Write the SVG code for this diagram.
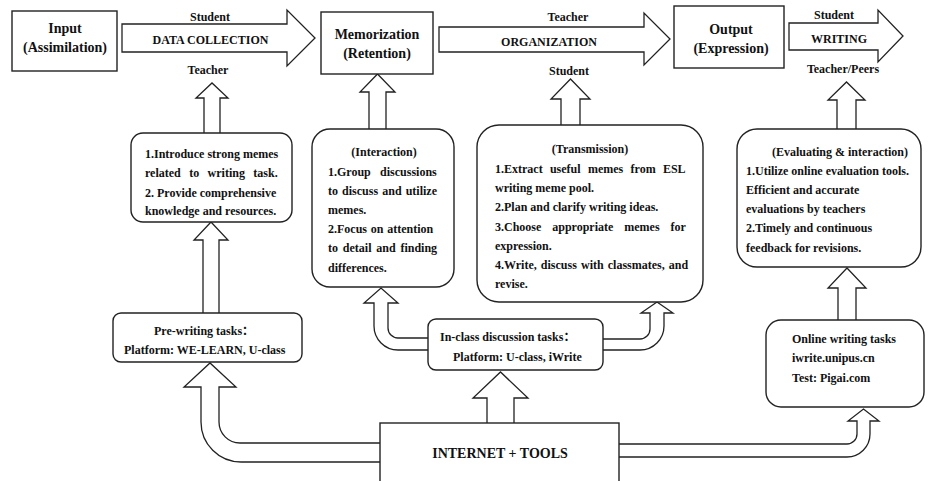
<svg xmlns="http://www.w3.org/2000/svg" width="928" height="481" viewBox="0 0 928 481">
<style>
  text { font-family: "Liberation Serif", "Times New Roman", "Noto Sans CJK SC", serif; font-weight: bold; fill: #111; }
  .t14 { font-size: 14px; }
  .t12 { font-size: 12px; }
  .c { text-anchor: middle; }
  .box { fill: #fff; stroke: #222; stroke-width: 1.4; }
  .arr { fill: #fff; stroke: #222; stroke-width: 1.3; stroke-linejoin: miter; }
</style>
<rect x="0" y="0" width="928" height="481" fill="#fff"/>

<g id="connectors">
  <!-- big horizontal arrows -->
  <path class="arr" d="M122,24 L287,24 L287,10 L315,38 L287,66 L287,52 L122,52 Z"/>
  <path class="arr" d="M439,27 L644,27 L644,13 L670,39 L644,65 L644,52 L439,52 Z"/>
  <path class="arr" d="M789,23 L878,23 L878,10 L903,36 L878,62 L878,50 L789,50 Z"/>
  <!-- straight up arrows -->
  <path class="arr" d="M204,133 L204,98 L196,98 L212,83 L228,98 L220,98 L220,133"/>
  <path class="arr" d="M203,313 L203,240 L194,240 L211,222 L228,240 L219,240 L219,313"/>
  <path class="arr" d="M369,129 L369,92 L360,92 L377.5,74 L395,92 L386,92 L386,129"/>
  <path class="arr" d="M561,125 L561,99 L551,99 L570.5,79 L590,99 L580,99 L580,125"/>
  <path class="arr" d="M837,129 L837,100 L828,100 L846.5,82 L865,100 L856,100 L856,129"/>
  <path class="arr" d="M838,320 L838,288 L828,288 L847,268 L866,288 L856,288 L856,320"/>
  <path class="arr" d="M487,423 L487,398 L473,398 L500.5,372 L528,398 L514,398 L514,423"/>
  <!-- curved arrows from in-class box -->
  <path class="arr" d="M428,338 L398,338 A10,10 0 0 1 388,328 L388,303 L398,303 L381,288 L364,303 L374,303 L374,326 A24,24 0 0 0 398,350 L428,350"/>
  <path class="arr" d="M603,339 L640,339 A10,10 0 0 0 650,329 L650,313 L641,313 L657,302 L673,313 L664,313 L664,326 A24,24 0 0 1 640,350 L603,350"/>
  <!-- curved arrows from INTERNET box -->
  <path class="arr" d="M380,443 L240,443 A21,21 0 0 1 219,422 L219,387 L236,387 L210,363 L184,387 L201,387 L201,422 A40,40 0 0 0 241,462 L380,462"/>
  <path class="arr" d="M619,444 L847,444 A10,10 0 0 0 857,434 L857,421 L848,421 L863.5,409 L879,421 L870,421 L870,434 A23,23 0 0 1 847,457 L619,457"/>
</g>

<g id="arrow-labels">
  <text class="t12 c" x="210" y="21">Student</text>
  <text class="t12 c" x="210.5" y="44">DATA COLLECTION</text>
  <text class="t12 c" x="208" y="74">Teacher</text>
  <text class="t12 c" x="568" y="21">Teacher</text>
  <text class="t12 c" x="549" y="46">ORGANIZATION</text>
  <text class="t12 c" x="569" y="75">Student</text>
  <text class="t12 c" x="834" y="19">Student</text>
  <text class="t12 c" x="839" y="43">WRITING</text>
  <text class="t12 c" x="843" y="73">Teacher/Peers</text>
</g>

<g id="input">
  <rect class="box" x="12" y="11" width="105" height="60"/>
  <text class="t14 c" x="65" y="33">Input</text>
  <text class="t14 c" x="65" y="52">(Assimilation)</text>
</g>

<g id="memorization">
  <rect class="box" x="321" y="12" width="112" height="62"/>
  <text class="t14 c" x="377" y="39">Memorization</text>
  <text class="t14 c" x="377" y="58">(Retention)</text>
</g>

<g id="output">
  <rect class="box" x="674" y="6" width="110" height="62"/>
  <text class="t14 c" x="731" y="34">Output</text>
  <text class="t14 c" x="731" y="53">(Expression)</text>
</g>

<g id="introduce">
  <rect class="box" x="131" y="133" width="161" height="89" rx="12"/>
  <text class="t12" x="145" y="158">1.Introduce strong memes</text>
  <text class="t12" x="145" y="177" word-spacing="5.4">related to writing task.</text>
  <text class="t12" x="145" y="197">2. Provide comprehensive</text>
  <text class="t12" x="145" y="215">knowledge and resources.</text>
</g>

<g id="interaction">
  <rect class="box" x="312" y="129" width="142" height="158" rx="18"/>
  <text class="t12 c" x="384" y="156">(Interaction)</text>
  <text class="t12" x="328" y="176" word-spacing="6.3">1.Group discussions</text>
  <text class="t12" x="328" y="195" word-spacing="1.1">to discuss and utilize</text>
  <text class="t12" x="328" y="214">memes.</text>
  <text class="t12" x="328" y="233" word-spacing="0.8">2.Focus on attention</text>
  <text class="t12" x="328" y="252" word-spacing="1.8">to detail and finding</text>
  <text class="t12" x="328" y="272">differences.</text>
</g>

<g id="transmission">
  <rect class="box" x="477" y="125" width="226" height="177" rx="22"/>
  <text class="t12 c" x="590" y="153">(Transmission)</text>
  <text class="t12" x="495" y="173" word-spacing="4.3">1.Extract useful memes from ESL</text>
  <text class="t12" x="495" y="192">writing meme pool.</text>
  <text class="t12" x="495" y="211">2.Plan and clarify writing ideas.</text>
  <text class="t12" x="495" y="231" word-spacing="7.9">3.Choose appropriate memes for</text>
  <text class="t12" x="495" y="250">expression.</text>
  <text class="t12" x="495" y="269" word-spacing="1.1">4.Write, discuss with classmates, and</text>
  <text class="t12" x="495" y="288">revise.</text>
</g>

<g id="evaluating">
  <rect class="box" x="737" y="129" width="184" height="138" rx="20"/>
  <text class="t12 c" x="840" y="156">(Evaluating &amp; interaction)</text>
  <text class="t12" x="746" y="175">1.Utilize online evaluation tools.</text>
  <text class="t12" x="746" y="194">Efficient and accurate</text>
  <text class="t12" x="746" y="213">evaluations by teachers</text>
  <text class="t12" x="746" y="232">2.Timely and continuous</text>
  <text class="t12" x="746" y="252">feedback for revisions.</text>
</g>

<g id="pre-writing">
  <rect class="box" x="113" y="313" width="189" height="49" rx="8"/>
  <text class="t12" x="154" y="335">Pre-writing tasks：</text>
  <text class="t12" x="124" y="354">Platform: WE-LEARN, U-class</text>
</g>

<g id="in-class">
  <rect class="box" x="428" y="319" width="175" height="51" rx="8"/>
  <text class="t12" x="440" y="341">In-class discussion tasks：</text>
  <text class="t12" x="453" y="361">Platform: U-class, iWrite</text>
</g>

<g id="online">
  <rect class="box" x="766" y="320" width="158" height="87" rx="15"/>
  <text class="t12" x="792" y="343">Online writing tasks</text>
  <text class="t12" x="792" y="362">iwrite.unipus.cn</text>
  <text class="t12" x="792" y="382">Test: Pigai.com</text>
</g>

<g id="internet">
  <rect class="box" x="380" y="423" width="239" height="70"/>
  <text class="t14 c" x="500" y="458">INTERNET + TOOLS</text>
</g>
</svg>
